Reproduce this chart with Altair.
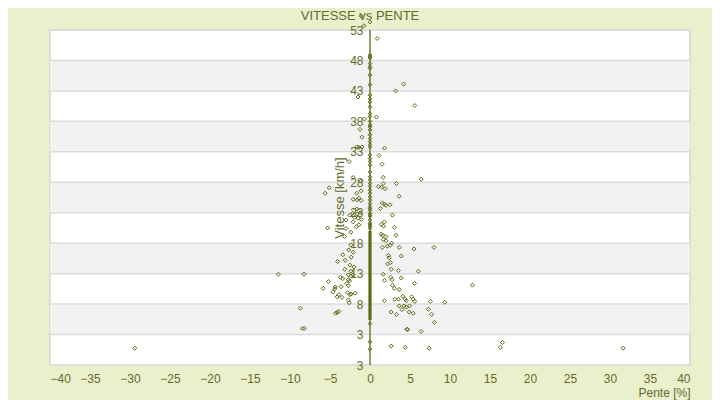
import altair as alt
import pandas as pd

# ---- data ----
pente = [
    -1.1, -0.75, 0.9, 4.2, 3.2, -1.5, 5.6, -0.7, 0.8, -1.25,
    -1.0, -1.65, -1.4, -1.0, 1.8, 1.15, -2.6, 1.5, -2.1, 1.65, -1.1, 1.65, 3.3, 6.4,
    1.05, 1.45, 1.9, -5.1, -5.6, -1.65, -1.1, 3.65, -2.1, -1.6, -1.4, -1.1, 1.55, 1.8,
    2.0, 2.5, 1.3, -1.65, -2.15, -1.6, -1.2, -2.55, 2.8, -3.0, -1.9, -1.5, -1.1, 1.8,
    1.7, 1.4, -2.1, -1.7, -1.4, -5.3, -3.0, 3.05, -2.4, -3.2, 1.4, 1.6, 2.0, 1.65,
    3.25, 2.0, 2.5, 2.15, -2.4, -2.65, -2.1, -3.4, 1.55, 2.7, 3.65, 5.5, 8.0, 2.3,
    2.4, 3.9, -2.35,
    -4.05, -3.1, -2.5, -2.0, -3.15, 2.2, 2.55, 2.65, 3.55, -8.25, -2.4, -2.7, -2.4,
    -2.1, -2.7, -3.4, -3.7, 1.65, 1.8, 2.6, 2.75, 3.9, 6.05, 5.55, -5.2, -5.85, -4.65,
    -4.4, -4.1, -3.9, -3.5, -4.35, -2.9, -2.7, -2.55, -1.85, -2.8, -2.5, -2.35, -2.7,
    -2.6, -3.6, 2.8, 3.05, 3.65, 4.1, 3.55, 3.1, 1.8, 4.4, 4.55, 5.2, 5.4, 5.6, 7.55,
    9.35, -8.7, -4.1, -4.3, -3.9, 2.65, 3.3, 3.65, 4.0, 4.25, 4.55, 4.95, 4.9, 5.4,
    7.3, 7.7, 8.05, -8.45, -8.2, 4.6, 4.7, 6.4, 2.65, 4.4, 7.4,
    -29.4, 16.3, 16.55, 31.65, 12.8, -11.45,
]
vitesse = [
    55.3, 53.7, 51.6, 44.1, 43.0, 42.0, 40.6, 38.4, 38.7, 36.7,
    35.4, 33.8, 33.7, 33.8, 33.6, 32.4, 31.4, 30.95, 28.8, 28.8, 28.2, 27.8, 27.8, 28.5,
    27.3, 27.2, 26.95, 27.1, 26.2, 26.2, 26.6, 25.7, 25.2, 25.1, 25.4, 25.0, 24.6, 24.4,
    24.2, 24.3, 23.7, 23.6, 22.9, 22.8, 23.0, 22.6, 22.6, 21.8, 22.25, 22.1, 21.9, 21.5,
    20.8, 21.1, 21.5, 20.7, 21.0, 20.5, 20.4, 20.6, 19.8, 19.1, 19.5, 19.3, 19.1, 18.6,
    19.3, 18.4, 17.65, 17.5, 17.7, 16.9, 16.5, 16.1, 17.3, 18.0, 17.3, 17.05, 17.3, 16.0,
    15.6, 15.9, 15.7,
    15.0, 15.2, 14.4, 14.1, 13.7, 14.6, 14.8, 13.7, 13.5, 12.9, 13.4, 12.8, 12.6,
    12.8, 12.0, 12.2, 12.4, 12.9, 11.9, 12.4, 12.0, 12.3, 13.4, 11.4, 11.7, 10.6, 10.0,
    10.5, 9.2, 9.55, 9.1, 10.8, 11.4, 11.0, 11.8, 9.8, 9.9, 9.55, 9.65, 8.7,
    8.2, 10.85, 11.1, 10.6, 10.4, 9.3, 8.8, 8.8, 8.55, 8.8, 8.55, 9.2, 8.8, 8.45, 8.45,
    8.3, 7.3, 6.65, 6.5, 6.8, 6.7, 6.3, 7.7, 7.1, 7.7, 7.5, 7.7, 6.7, 6.5,
    7.15, 6.3, 5.0, 4.0, 4.0, 3.85, 3.85, 3.5, 1.1, 0.9, 0.75,
    0.75, 0.9, 1.7, 0.75, 11.1, 12.9,
]
# speeds recorded with a slope of exactly 0 %
vitesse_pente_zero = [
    0.6, 1.8, 4.8, 20.4, 20.7, 21.0, 21.3, 21.8, 22.4, 22.6, 22.9, 23.4, 23.7, 24.0,
    24.5, 25.1, 25.6, 26.2, 26.7, 27.3, 27.8, 28.4, 28.9, 29.7, 30.8, 31.4, 31.9,
    32.5, 33.8, 34.2, 34.7, 35.2, 35.8, 36.6, 37.1, 37.4, 38.0, 38.8, 39.3, 40.4,
    41.2, 41.7, 42.3, 44.0, 45.6, 46.7, 47.0, 47.5, 48.4, 48.6, 48.9, 54.3, 57.6,
]
# dense band of 0 % points (continuous run)
zero_dense_lo = [5.4]
zero_dense_hi = [20.0]

x_ticks = list(range(-40, 45, 5))
y_ticks = [-2, 3, 8, 13, 18, 23, 28, 33, 38, 43, 48, 53]
band_lo = [3, 13, 23, 33, 43]
band_hi = [8, 18, 28, 38, 48]
chart_title = ["VITESSE vs PENTE"]

X_DOM = [-40, 40]
Y_DOM = [-2, 53]

OLIVE = "#5b6812"
TEXT = "#676b2c"
FONT = "Liberation Sans"

df = pd.DataFrame({"pente": pente, "vitesse": vitesse})
dz = pd.DataFrame({"pente": [0] * len(vitesse_pente_zero), "vitesse": vitesse_pente_zero})
dbands = pd.DataFrame({"lo": band_lo, "hi": band_hi, "x0": [X_DOM[0]] * 5, "x1": [X_DOM[1]] * 5})
dgrid = pd.DataFrame({"lo": y_ticks, "x0": [X_DOM[0]] * len(y_ticks), "x1": [X_DOM[1]] * len(y_ticks)})
dzero = pd.DataFrame({"x0": [0], "lo": [Y_DOM[0]], "hi": [Y_DOM[1]]})
ddense = pd.DataFrame({"x0": [0], "lo": zero_dense_lo, "hi": zero_dense_hi})
dtitle = pd.DataFrame({"t": chart_title})

xs = alt.Scale(domain=X_DOM, nice=False, zero=False)
ys = alt.Scale(domain=Y_DOM, nice=False, zero=False)

x_axis = alt.Axis(
    values=x_ticks, title="Pente [%]", titleAnchor="end", titleAlign="right",
    titleFont=FONT, titleFontSize=12, titleFontWeight="normal", titleColor=TEXT,
    titleBaseline="alphabetic", titleY=31,
    labelFont=FONT, labelFontSize=12, labelColor=TEXT,
    labelPadding=8, domain=False, ticks=False, grid=False,
)
y_axis = alt.Axis(
    values=y_ticks, title="Vitesse [km/h]", titleFont=FONT, titleFontSize=13,
    titleFontWeight="normal", titleColor=TEXT, titlePadding=3,
    labelFont=FONT, labelFontSize=12, labelColor=TEXT, labelPadding=7,
    labelExpr="datum.value < 0 ? '3' : datum.label",
    domain=False, ticks=False, grid=False, offset=-320, zindex=1,
)

X = lambda f: alt.X(f, type="quantitative", scale=xs, axis=x_axis)
Y = lambda f: alt.Y(f, type="quantitative", scale=ys, axis=y_axis)

bands = alt.Chart(dbands).mark_rect(color="#f2f2f2").encode(
    x=X("x0"), x2="x1", y=Y("lo"), y2="hi",
)
grid = alt.Chart(dgrid).mark_rule(color="#dcdcdc", strokeWidth=1.5).encode(
    x=X("x0"), x2="x1", y=Y("lo"),
)
zero = alt.Chart(dzero).mark_rule(color=OLIVE, strokeWidth=1.3).encode(
    x=X("x0"), y=Y("lo"), y2="hi",
)
dense = alt.Chart(ddense).mark_rule(color=OLIVE, strokeWidth=3.2).encode(
    x=X("x0"), y=Y("lo"), y2="hi",
)
pts_zero = alt.Chart(dz).mark_point(
    shape="diamond", size=13, filled=False, color=OLIVE, strokeWidth=1, opacity=1
).encode(x=X("pente"), y=Y("vitesse"))
pts = alt.Chart(df).mark_point(
    shape="diamond", size=16, filled=False, color=OLIVE, strokeWidth=1, opacity=1
).encode(x=X("pente"), y=Y("vitesse"))
title = alt.Chart(dtitle).mark_text(
    font=FONT, fontSize=13, color=TEXT, align="center", baseline="alphabetic"
).encode(text="t:N", x=alt.value(310), y=alt.value(-10))

chart = alt.layer(bands, grid, zero, dense, pts_zero, pts, title).properties(
    width=640, height=335,
    autosize=alt.AutoSizeParams(type="none"),
    padding={"left": 42, "top": 22, "right": 22, "bottom": 35},
    background="#eaefcc",
).configure_view(stroke="#d6d6d6", strokeWidth=1.5, fill="white")

chart.save("out.html", embed_options={"renderer": "svg", "actions": False})
